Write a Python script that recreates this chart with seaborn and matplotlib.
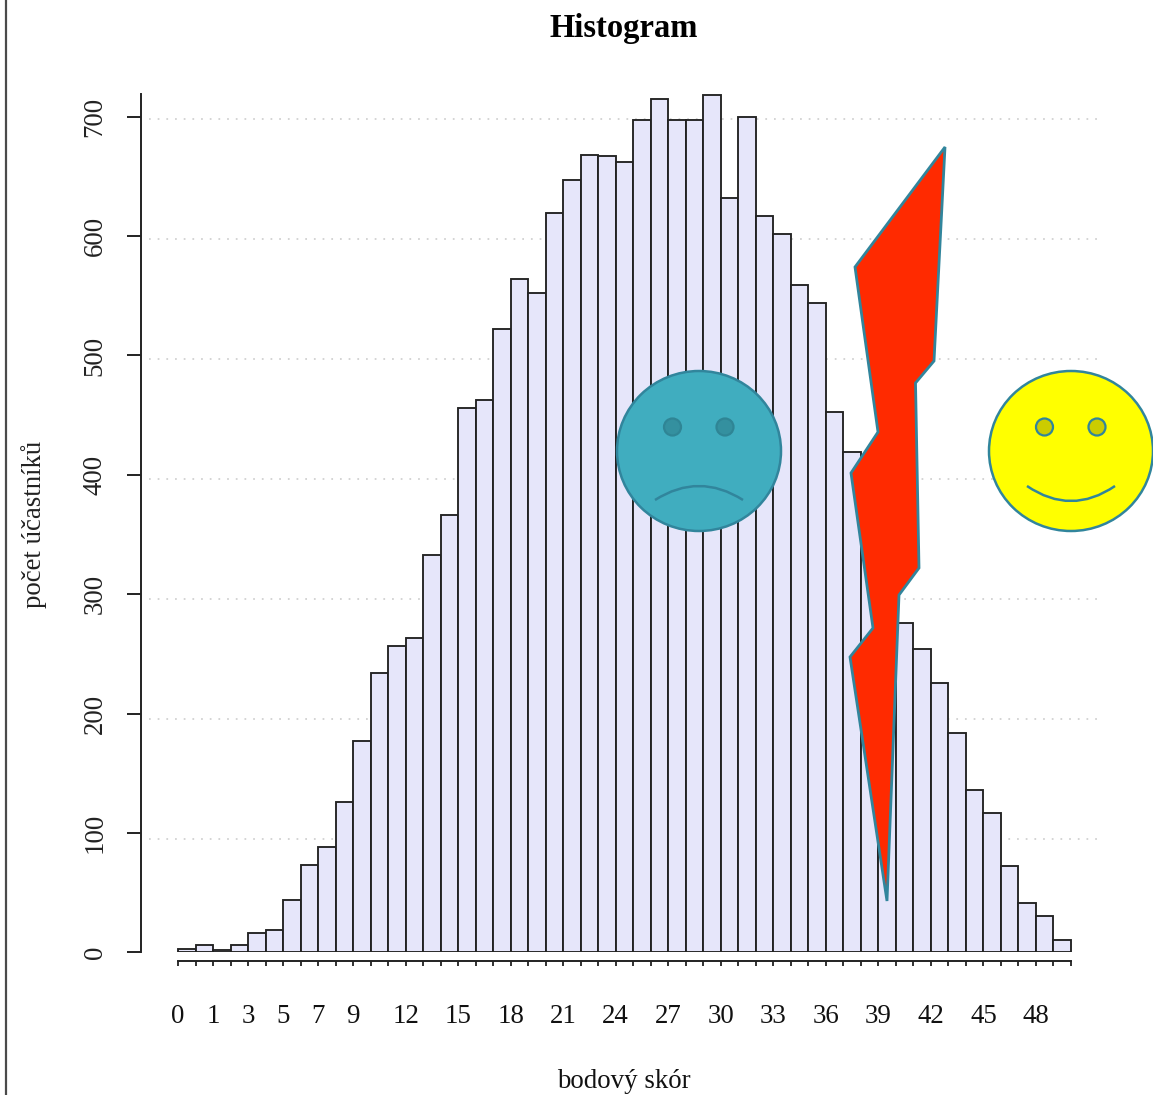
import pandas as pd
import matplotlib
matplotlib.use("Agg")
import matplotlib.pyplot as plt
from matplotlib.patches import Ellipse, Polygon, PathPatch
from matplotlib.path import Path
import seaborn as sns

# ---- data ----
counts = [3, 6, 2, 6, 16, 19, 44, 73, 88, 126, 177, 234, 257, 263, 333, 366, 456,
          463, 522, 564, 552, 619, 647, 668, 667, 662, 697, 715, 697, 697, 718, 632,
          700, 617, 602, 559, 544, 453, 419, 372, 320, 276, 254, 226, 184, 136, 117,
          72, 41, 30, 10]
tick_slots = [0, 2, 4, 6, 8, 10, 13, 16, 19, 22, 25, 28, 31, 34, 37, 40, 43, 46, 49]
tick_names = ["0", "1", "3", "5", "7", "9", "12", "15", "18", "21", "24", "27",
              "30", "33", "36", "39", "42", "45", "48"]
y_ticks = [0, 100, 200, 300, 400, 500, 600, 700]
guide_levels = [95, 195.4, 296, 396.5, 497, 597.6, 698]

W, H = 1153, 1095
BAR_EDGE = "#222222"
TEAL = "#31859C"

sns.set_theme(style="white")
plt.rcParams["font.family"] = ["Liberation Serif", "DejaVu Serif"]

fig = plt.figure(figsize=(W / 100, H / 100), dpi=100, facecolor="white")
L, R, T, B = 141, 1101, 94, 952.3
ax = fig.add_axes([L / W, 1 - B / H, (R - L) / W, (B - T) / H])

n = len(counts)
px_per_bin = (1071 - 178) / n
edges = list(range(n + 1))
df = pd.DataFrame({"slot": [i + 0.5 for i in range(n)], "count": counts})
sns.histplot(data=df, x="slot", weights="count", bins=edges, ax=ax, stat="count",
             color="#E6E6FA", alpha=1, edgecolor=BAR_EDGE, linewidth=1.35, zorder=3)

ax.set_xlim((L - 178) / px_per_bin, (R - 178) / px_per_bin)
ax.set_ylim(0, (B - T) / (835.6 / 700))

ax.hlines(guide_levels, (149 - 178) / px_per_bin, (1100 - 178) / px_per_bin,
          color="#cfcfcf", lw=1.25, linestyles=[(0, (1, 4.0))], zorder=1)

for s in ("top", "right"):
    ax.spines[s].set_visible(False)
ax.spines["left"].set_color(BAR_EDGE)
ax.spines["left"].set_linewidth(1.4)
ax.spines["bottom"].set_color(BAR_EDGE)
ax.spines["bottom"].set_linewidth(1.4)
ax.spines["bottom"].set_position(("outward", 6.5))
ax.spines["bottom"].set_bounds(0, n)

ax.set_yticks(y_ticks)
ax.set_yticklabels([str(v) for v in y_ticks], rotation=90, va="center", fontsize=19.4, color="#222222")
ax.tick_params(axis="y", left=True, length=10, width=1.4, color=BAR_EDGE, pad=14)

ax.set_xticks(tick_slots)
ax.set_xticklabels(tick_names, fontsize=19.4, color="#111111")
ax.set_xticks(edges, minor=True)
ax.tick_params(axis="x", which="major", bottom=True, length=3.6, width=1.3, color=BAR_EDGE, pad=27)
ax.tick_params(axis="x", which="minor", bottom=True, length=3.6, width=1.3, color=BAR_EDGE)

ax.set_xlabel("bodový skór", fontsize=19.4, color="#111111")
ax.xaxis.set_label_coords((623.5 - L) / (R - L), -(1081 - B) / (B - T))
ax.xaxis.label.set_va("center")
ax.set_ylabel("počet účastníků", fontsize=19.4, color="#222222")
ax.yaxis.set_label_coords((34 - L) / (R - L), (B - 524) / (B - T))
ax.yaxis.label.set_va("center")
ax.set_title("Histogram", fontsize=23.5, fontweight="bold", color="black",
             x=(624 - L) / (R - L), y=(B - 29) / (B - T), va="center", pad=0)

# ---- overlay shapes, in picture pixels ----
ov = fig.add_axes([0, 0, 1, 1], zorder=10)
ov.set_xlim(0, W)
ov.set_ylim(H, 0)
ov.axis("off")
ov.patch.set_alpha(0)

ov.plot([5.5, 5.5], [0, H], color="#4a4a4a", lw=1.6)

bolt = [(855, 267), (945, 147), (934, 361), (915.5, 383), (919, 568), (899, 595),
        (887, 901), (850, 657), (873, 628), (851, 473), (878, 432)]
ov.add_patch(Polygon(bolt, closed=True, fc="#FF2A00", ec=TEAL, lw=2.0, joinstyle="miter"))


def face(cx, fill, eye_fill, eye_edge, mouth_end, mouth_ctrl):
    ov.add_patch(Ellipse((cx, 451), 164, 160, fc=fill, ec=TEAL, lw=1.8))
    for dx in (-26.5, 26):
        ov.add_patch(Ellipse((cx + dx, 427), 17, 17, fc=eye_fill, ec=eye_edge, lw=1.6))
    p = Path([(cx - 44, mouth_end), (cx, mouth_ctrl), (cx + 44, mouth_end)],
             [Path.MOVETO, Path.CURVE3, Path.CURVE3])
    ov.add_patch(PathPatch(p, fc="none", ec=TEAL, lw=1.8))


face(699, "#40ADBF", "#34909F", "#2F8595", 500, 472)
face(1071, "#FFFF00", "#CCCC00", TEAL, 486, 516)

fig.savefig("out.png", dpi=100)
